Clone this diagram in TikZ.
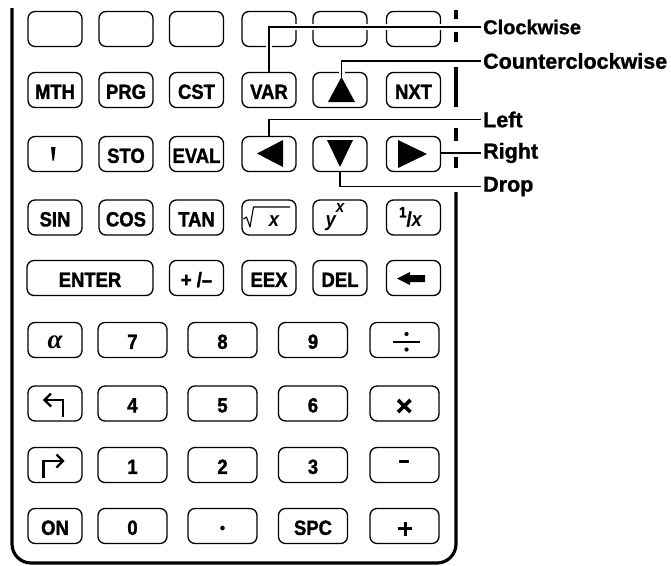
\documentclass[tikz,border=0pt]{standalone}
\usepackage{fontspec}
\setmainfont{Liberation Sans}
\newfontfamily\grkfont{Liberation Serif}
\newfontfamily\keyfam{Liberation Sans}[FakeStretch=0.9,BoldFeatures={FakeBold=1.6}]
\newfontfamily\lblfam{Liberation Sans}[BoldFeatures={FakeBold=1.2}]
\newcommand\keyfont{\keyfam\fontsize{20.5}{22}\selectfont\bfseries}
\newcommand\lblfont{\lblfam\fontsize{21.5}{24}\selectfont\bfseries}
\begin{document}
\begin{tikzpicture}[x=1pt,y=-1pt,
  key/.style={draw,rounded corners=7pt,line width=1.3pt,minimum height=35pt,
    inner sep=0pt,text height=17.7pt,text depth=0pt,font=\keyfont},
  sk/.style={key,minimum width=54pt},
  wk/.style={key,minimum width=69pt},
  lead/.style={line width=1.3pt,preaction={draw=white,line width=6pt,shorten <=4pt}},
  lbl/.style={font=\lblfont,anchor=west,inner sep=0pt},
  frame/.style={line width=3.2pt},
  glyph/.style={line width=2.3pt,line join=miter}]
\useasboundingbox (0,0) rectangle (671,565);

% frame
\draw[frame,rounded corners=19pt] (12,8) -- (12,563) -- (456,563) -- (456,192);
\draw[frame] (456,10) -- (456,19);
\draw[frame] (456,32) -- (456,42);
\draw[frame] (456,67) -- (456,107);
\draw[frame] (456,128) -- (456,141);
\draw[frame] (456,157) -- (456,168);

% row 1
\node[sk] (k11) at (55,29) {};
\node[sk] (k12) at (126,29) {};
\node[sk] (k13) at (196.5,29) {};
\node[sk] (k14) at (269,29) {};
\node[sk] (k15) at (340,29) {};
\node[sk] (k16) at (413.5,29) {};
% row 2
\node[sk] (mth) at (55,90) {MTH};
\node[sk] (prg) at (126,90) {PRG};
\node[sk] (cst) at (196.5,90) {CST};
\node[sk] (var) at (269,90) {VAR};
\node[sk] (up) at (340,90) {};
\node[sk] (nxt) at (413.5,90) {NXT};
% row 3
\node[sk] (tick) at (55,154) {};
\node[sk] (sto) at (126,154) {STO};
\node[sk] (eval) at (196.5,154) {EVAL};
\node[sk] (left) at (269,154) {};
\node[sk] (down) at (340,154) {};
\node[sk] (right) at (413.5,154) {};
% row 4
\node[sk] (sin) at (55,217.5) {SIN};
\node[sk] (cos) at (126,217.5) {COS};
\node[sk] (tan) at (196.5,217.5) {TAN};
\node[sk] (sqrt) at (269,217.5) {\hspace*{10pt}\itshape x};
\node[sk] (ypow) at (340,217.5) {\itshape y\raisebox{14pt}{\fontsize{17}{17}\selectfont x}\hspace*{10pt}};
\node[sk] (inv) at (413.5,217.5) {\raisebox{9pt}{\fontsize{15}{15}\selectfont 1}/{\itshape x}\hspace*{6pt}};
% row 5
\node[key,minimum width=126pt] (enter) at (90,278) {ENTER};
\node[sk] (chs) at (196.5,278) {+ /–};
\node[sk] (eex) at (269,278) {EEX};
\node[sk] (del) at (340,278) {DEL};
\node[sk] (bksp) at (413.5,278) {};
% row 6
\node[sk] (alphakey) at (55,340) {\grkfont\fontsize{27}{27}\selectfont\bfseries\itshape α};
\node[wk] (n7) at (132.5,340) {7};
\node[wk] (n8) at (222.5,340) {8};
\node[wk] (n9) at (313,340) {9};
\node[wk] (div) at (404.5,340) {};
% row 7
\node[sk] (lshift) at (55,403.5) {};
\node[wk] (n4) at (132.5,403.5) {4};
\node[wk] (n5) at (222.5,403.5) {5};
\node[wk] (n6) at (313,403.5) {6};
\node[wk] (mul) at (404.5,403.5) {};
% row 8
\node[sk] (rshift) at (55,465) {};
\node[wk] (n1) at (132.5,465) {1};
\node[wk] (n2) at (222.5,465) {2};
\node[wk] (n3) at (313,465) {3};
\node[wk] (minus) at (404.5,465) {};
% row 9
\node[sk] (on) at (55,526) {ON};
\node[wk] (n0) at (132.5,526) {0};
\node[wk] (dot) at (222.5,526) {};
\node[wk] (spc) at (313,526) {SPC};
\node[wk] (plus) at (404.5,526) {};

% key glyphs
\fill (51,147) -- (55.5,147) -- (54,160.5) -- (52.5,160.5) -- cycle;
\fill (328,102) -- (341.5,77) -- (355,102) -- cycle;
\coordinate (uptip) at (341.5,77);
\fill (257,153.5) -- (283,140) -- (283,167) -- cycle;
\fill (327,140) -- (353,140) -- (340,167) -- cycle;
\fill (398,140) -- (427,154) -- (398,168) -- cycle;
\draw[line width=1.1pt,line join=round] (243.5,219) -- (246.5,217) -- (250,227) -- (253.5,207) -- (290,207);
\fill (397,278.5) -- (410,272) -- (410,275) -- (425,275) -- (425,282) -- (410,282) -- (410,285) -- cycle;
\draw[line width=1.2pt] (393,342) -- (420,342);
\fill (406.5,334) circle (2.1) (406.5,349.5) circle (2.1);
\draw[line width=3.6pt] (398,400) -- (410.5,412) (398,412) -- (410.5,400);
\draw[line width=3pt] (398.5,461.5) -- (408.5,461.5);
\draw[line width=3pt] (398,528.5) -- (412,528.5) (405,521.5) -- (405,535.5);
\fill (222.5,528) circle (2.3);
\draw[glyph] (63,417) -- (63,400) -- (44.5,400);
\draw[glyph] (51,393.5) -- (44.5,400) -- (51,406.5);
\draw[glyph] (43.5,478) -- (43.5,461) -- (63,461);
\draw[glyph] (56.5,454.5) -- (63,461) -- (56.5,467.5);

% labels
\node[lbl,font=\lblfam\fontsize{20}{22}\selectfont\bfseries] (lcw) at (483,27) {Clockwise};
\node[lbl] (lccw) at (483,61) {Counterclockwise};
\node[lbl] (lleft) at (483,119.5) {Left};
\node[lbl] (lright) at (483,153) {Right};
\node[lbl] (ldrop) at (483,186.5) {Drop};

% leaders
\draw[lead,shorten >=2pt] (var.north) |- (lcw.west);
\draw[lead,shorten >=2pt] (uptip) |- (lccw.west);
\draw[lead,shorten >=2pt] (left.north) |- (lleft.west);
\draw[lead,shorten >=2pt] (right.east |- lright.west) -- (lright.west);
\draw[lead,shorten >=2pt] (down.south) |- (ldrop.west);
\end{tikzpicture}
\end{document}
